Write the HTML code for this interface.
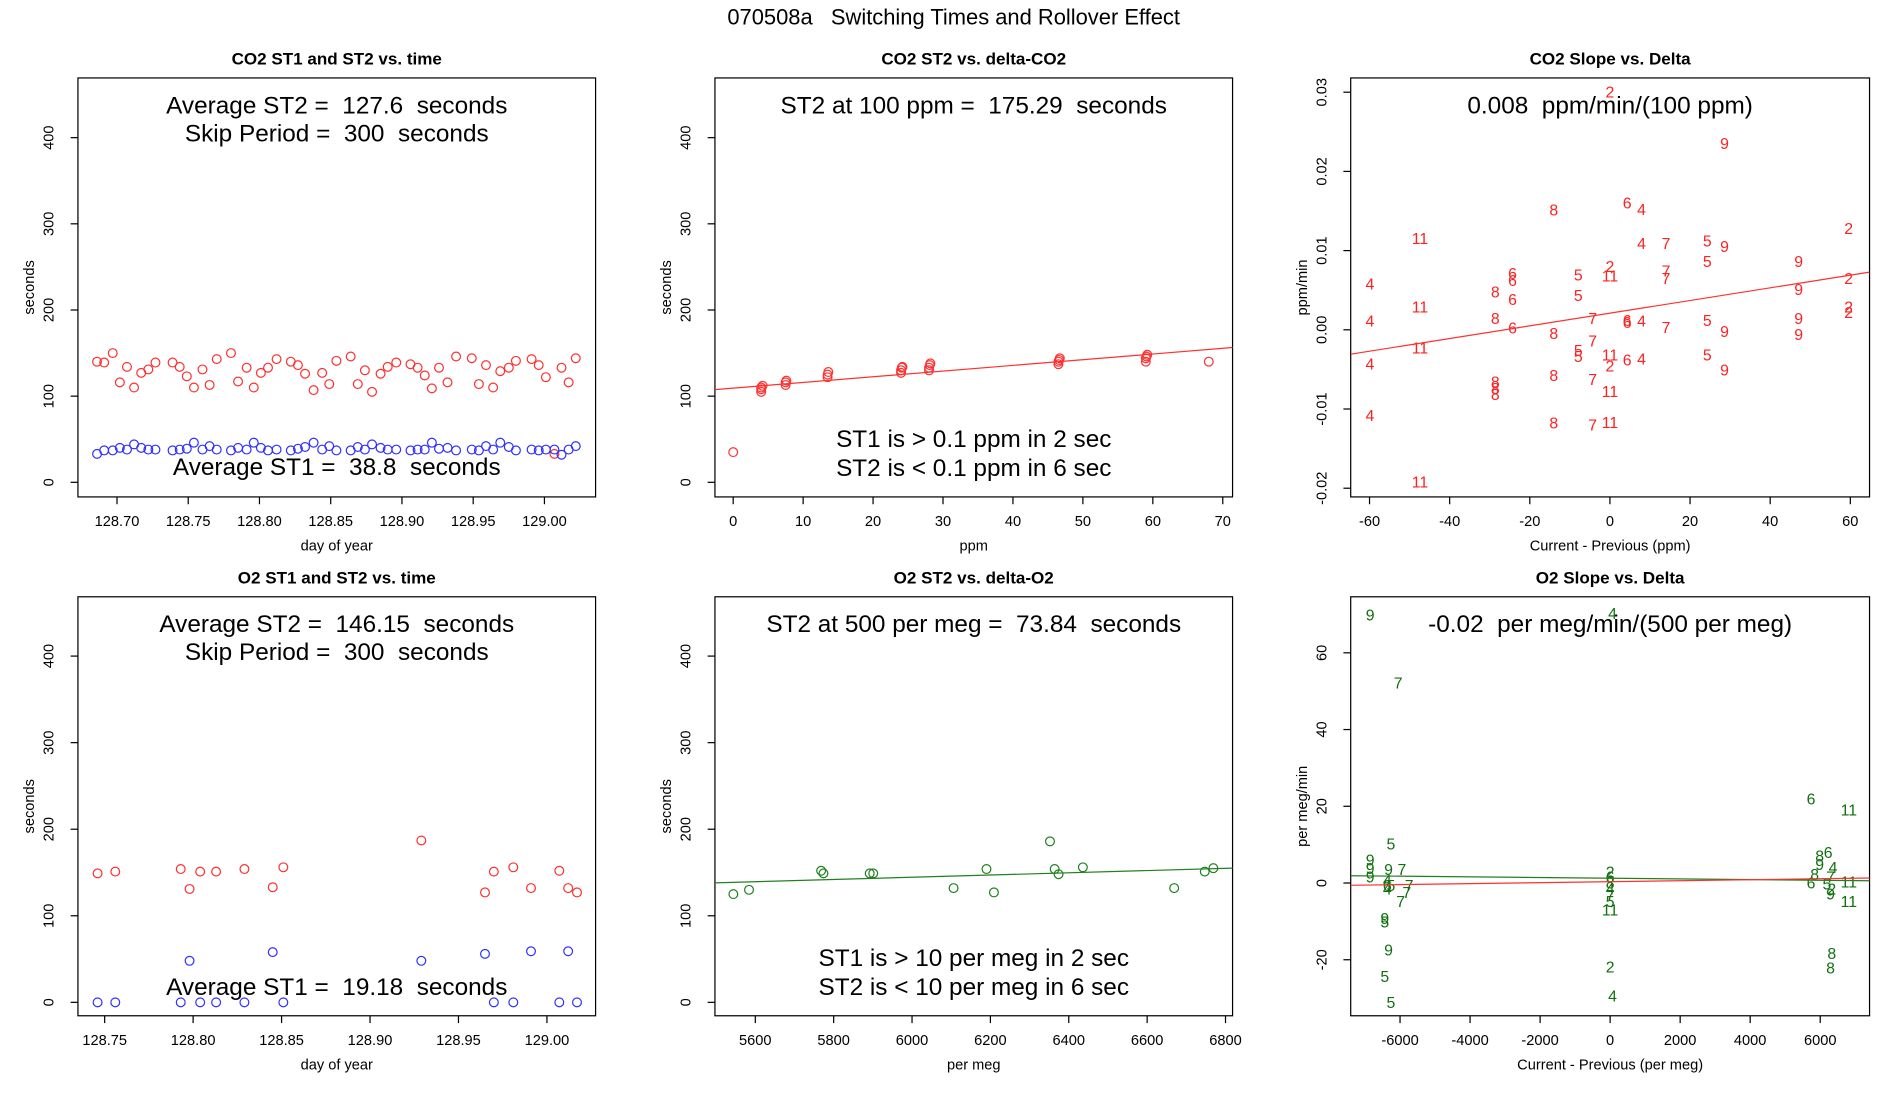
<!DOCTYPE html>
<html><head><meta charset="utf-8">
<style>
html,body{margin:0;padding:0;background:#fff;}
svg{display:block;font-family:"Liberation Sans",Arial,sans-serif;}
svg text{white-space:pre;}
</style></head>
<body>
<svg id="fig" width="1900" height="1100" viewBox="0 0 1560 903.16" xmlns="http://www.w3.org/2000/svg" xml:space="preserve">
<rect x="0" y="0" width="1560" height="903.16" fill="#fff"/>
<text x="783" y="20" font-size="18" text-anchor="middle">070508a   Switching Times and Rollover Effect</text>
</svg>
<script>
// ---------- data ----------
const co2Days = [128.686,128.691,128.697,128.702,128.707,128.712,128.717,128.722,128.727,128.739,128.744,128.749,128.754,128.760,128.765,128.770,128.780,128.785,128.791,128.796,128.801,128.806,128.812,128.822,128.827,128.832,128.838,128.844,128.849,128.854,128.864,128.869,128.874,128.879,128.885,128.890,128.896,128.906,128.911,128.916,128.921,128.926,128.932,128.938,128.949,128.954,128.959,128.964,128.969,128.975,128.980,128.991,128.996,129.001,129.007,129.012,129.017,129.022];
const co2ST2 = [140,139,150,116,134,110,127,131,139,139,134,123,110,131,113,143,150,117,133,110,127,133,143,140,136,126,107,127,114,141,146,114,130,105,126,134,139,137,133,124,109,133,116,146,144,114,136,110,129,133,141,143,136,122,33,133,116,144];
const co2ST1 = [33,37,37,40,38,44,40,38,38,37,38,39,46,38,42,38,37,40,38,46,40,37,38,37,39,41,46,38,42,37,37,41,38,44,40,38,38,37,38,38,46,39,40,37,38,37,42,38,46,41,37,38,37,38,38,32,38,42,37].slice(0,58);
const co2Ppm = [0,4,4,4,4.2,7.5,7.5,7.6,13.5,13.5,13.6,24,24,24.1,24.2,28,28,28.1,28.2,46.5,46.5,46.6,46.7,59,59,59.1,59.2,68];
const co2PpmST2 = [35,105,108,110,112,113,116,118,122,125,128,127,130,133,134,130,133,136,138,137,140,142,144,140,144,146,148,140];
const co2FitA = 109.3, co2FitB = 0.66;
const co2SlopeLbl = ['2','9','8','6','4','11','4','7','5','9','2','4','2','11','5','6','6','8','7','7','5','9','9','2','6','5','11','8','4','7','6','6','4','7','5','9','9','9','2','2','6','8','7','11','5','5','11','6','4','2','4','5','9','8','7','8','8','8','11','4','8','7','11','11'];
const co2SlopeX = [0,28.6,-14,4.3,7.9,-47.4,7.9,14,24.3,28.6,59.6,-59.9,0,0,-7.9,-24.3,-24.3,-28.6,14,14,24.3,47.1,47.1,59.6,-24.3,-7.9,-47.4,-28.6,-59.9,-4.3,4.3,4.3,7.9,14,24.3,28.6,47.1,47.1,59.6,59.6,-24.3,-14,-4.3,-47.4,-7.9,-7.9,0,4.3,7.9,0,-59.9,24.3,28.6,-14,-4.3,-28.6,-28.6,-28.6,0,-59.9,-14,-4.3,0,-47.4];
const co2SlopeY = [0.030,0.0235,0.0151,0.016,0.0152,0.0115,0.0109,0.0109,0.0112,0.0105,0.0128,0.0058,0.008,0.0068,0.0069,0.0071,0.0062,0.0048,0.0074,0.0065,0.0086,0.0086,0.0051,0.0065,0.0038,0.0043,0.0029,0.0014,0.0011,0.0014,0.0012,0.0009,0.0011,0.0003,0.0012,-0.0002,0.0014,-0.0006,0.0029,0.0022,0.0002,-0.0005,-0.0014,-0.0023,-0.0026,-0.0034,-0.0032,-0.0038,-0.0037,-0.0046,-0.0043,-0.0032,-0.0051,-0.0058,-0.0063,-0.0066,-0.0074,-0.0082,-0.0078,-0.0108,-0.0118,-0.012,-0.0117,-0.0192];
const co2SlopeFitA = 0.0021, co2SlopeFitB = 0.00008;

const o2Days = [128.746,128.756,128.793,128.798,128.804,128.813,128.829,128.845,128.851,128.929,128.965,128.970,128.981,128.991,129.007,129.012,129.017];
const o2ST2 = [149,151,154,131,151,151,154,133,156,187,127,151,156,132,152,132,127];
const o2ST1 = [0,0,0,48,0,0,0,58,0,48,56,0,0,59,0,59,0];
const o2PerMeg = [5544,5584,5768,5774,5892,5901,6106,6190,6209,6352,6364,6374,6436,6669,6747,6769];
const o2MegST2 = [125,130,152,149,149,149,132,154,127,186,154,148,156,132,151,155];
const o2FitA = 67.1, o2FitB = 0.0129;
const o2SlopeLbl = ['9','4','7','6','11','5','9','9','7','9','9','4','6','5','7','7','4','7','5','9','9','5','5','2','6','8','4','7','5','11','2','4','8','6','9','4','8','7','5','11','6','2','9','11','8','8'];
const o2SlopeX = [-6852,70,-6052,5739,6817,-6261,-6852,-6330,-5948,-6852,-6852,-6365,-6365,-6261,-5739,-5809,-6365,-5983,-6435,-6435,-6330,-6435,-6261,0,0,0,0,0,0,0,0,70,5983,6226,5983,6365,5843,6296,6191,6817,5739,6330,6296,6817,6330,6296];
const o2SlopeY = [69.8,70.2,52.1,21.9,19,10.2,6,3.5,3.5,3.8,1.6,0.6,-0.6,-0.6,-0.6,-2.5,-1.6,-4.8,-10.2,-9.2,-17.5,-24.4,-31.1,2.9,1.6,0,-1.6,-3.2,-4.8,-7,-21.9,-29.5,7,7.9,4.8,4.1,2.2,1.6,-0.3,0.3,0,-1.6,-2.9,-4.8,-18.4,-22.2];
const o2GreenA = 1.25, o2GreenB = -0.000088;
const o2RedA = 0.35, o2RedB = 0.000128;

const secTicks = [0,100,200,300,400];
const day1Ticks = [128.70,128.75,128.80,128.85,128.90,128.95,129.00];
const day2Ticks = [128.75,128.80,128.85,128.90,128.95,129.00];
const ppmTicks = [0,10,20,30,40,50,60,70];
const dppmTicks = [-60,-40,-20,0,20,40,60];
const slope1Ticks = [-0.02,-0.01,0,0.01,0.02,0.03];
const slope1TickLbl = ['-0.02','-0.01','0.00','0.01','0.02','0.03'];
const megTicks = [5600,5800,6000,6200,6400,6600,6800];
const dmegTicks = [-6000,-4000,-2000,0,2000,4000,6000];
const slope2Ticks = [-20,0,20,40,60];

// ---------- helpers ----------
const NS = 'http://www.w3.org/2000/svg';
const svg = document.getElementById('fig');
function mk(tag, attrs, parent, txt){
  const e = document.createElementNS(NS, tag);
  for (const k in attrs) e.setAttribute(k, attrs[k]);
  if (txt !== undefined) e.textContent = txt;
  (parent || svg).appendChild(e);
  return e;
}
function panel(o){
  const g = mk('g', {});
  
  
  const L=o.box[0], T=o.box[1], R=o.box[2], B=o.box[3];
  const sx = v => L + (v - o.xlim[0]) / (o.xlim[1]-o.xlim[0]) * (R-L);
  const sy = v => B - (v - o.ylim[0]) / (o.ylim[1]-o.ylim[0]) * (B-T);
  const t = mk('text', {x:(L+R)/2, y:T-11, 'font-size':14, 'font-weight':'bold', 'text-anchor':'middle'}, g, o.title);
  
  
  const box = mk('rect', {x:L, y:T, width:R-L, height:B-T, fill:'none', stroke:'#000', 'stroke-width':1}, g);
  
  
  const xa = mk('g', {}, g);
  
  
  o.xticks.forEach((v,i)=>{
    const x = sx(v);
    mk('line', {x1:x, x2:x, y1:B, y2:B+6, stroke:'#000'}, xa);
    const tl = mk('text', {x:x, y:B+24, 'font-size':12, 'text-anchor':'middle'}, xa, o.xlbl ? o.xlbl[i] : String(v));
    
    
  });
  const xt = mk('text', {x:(L+R)/2, y:B+44, 'font-size':12, 'text-anchor':'middle'}, g, o.xlab);
  
  
  const ya = mk('g', {}, g);
  
  
  o.yticks.forEach((v,i)=>{
    const y = sy(v);
    mk('line', {x1:L-6, x2:L, y1:y, y2:y, stroke:'#000'}, ya);
    const tl = mk('text', {x:L-20, y:y, 'font-size':12, 'text-anchor':'middle', transform:`rotate(-90 ${L-20} ${y})`}, ya, o.ylbl ? o.ylbl[i] : String(v));
    
    
  });
  const yt = mk('text', {x:L-36, y:(T+B)/2, 'font-size':12, 'text-anchor':'middle', transform:`rotate(-90 ${L-36} ${(T+B)/2})`}, g, o.ylab);
  
  
  const cp = 'clip-' + o.name;
  const cl = mk('clipPath', {id:cp}, g);
  mk('rect', {x:L, y:T, width:R-L, height:B-T}, cl);
  const plot = mk('g', {'clip-path':`url(#${cp})`}, g);
  
  
  return {g, plot, sx, sy, L, T, R, B};
}
function points(p, xs, ys, color, name){
  xs.forEach((x,i)=>{
    const c = mk('circle', {cx:p.sx(x), cy:p.sy(ys[i]), r:3.6, fill:'none', stroke:color, 'stroke-width':1}, p.plot);
    
    
  });
}
function labels(p, xs, ys, lbls, color, name){
  xs.forEach((x,i)=>{
    const t = mk('text', {x:p.sx(x), y:p.sy(ys[i])+4.5, 'font-size':13, fill:color, 'text-anchor':'middle'}, p.plot, lbls[i]);
    
    
  });
}
function fitLine(p, xlim, a, b, color, name){
  const l = mk('line', {x1:p.sx(xlim[0]), y1:p.sy(a+b*xlim[0]), x2:p.sx(xlim[1]), y2:p.sy(a+b*xlim[1]), stroke:color, 'stroke-width':1}, p.plot);
  
  
}
function note(p, y, txt, name){
  const t = mk('text', {x:(p.L+p.R)/2, y:y, 'font-size':20, 'text-anchor':'middle'}, p.g, txt);
  
  
}

// ---------- panels ----------
const row1 = [64,408], row2 = [490,834];
const secLim = [-16.96, 469.3];

const p1 = panel({name:'co2-time-panel', box:[64,row1[0],489,row1[1]], xlim:[128.6726,129.0359], ylim:secLim,
  title:'CO2 ST1 and ST2 vs. time', xticks:day1Ticks, xlbl:day1Ticks.map(v=>v.toFixed(2)), yticks:secTicks, xlab:'day of year', ylab:'seconds'});
points(p1, co2Days, co2ST2, '#ff3030', 'st2-point');
points(p1, co2Days, co2ST1, '#3030ff', 'st1-point');
note(p1, 93, 'Average ST2 =  127.6  seconds', 'average-st2-note');
note(p1, 116, 'Skip Period =  300  seconds', 'skip-period-note');
note(p1, 390, 'Average ST1 =  38.8  seconds', 'average-st1-note');

const p2 = panel({name:'co2-st2-delta-panel', box:[587,row1[0],1012,row1[1]], xlim:[-2.61,71.4], ylim:secLim,
  title:'CO2 ST2 vs. delta-CO2', xticks:ppmTicks, yticks:secTicks, xlab:'ppm', ylab:'seconds'});
points(p2, co2Ppm, co2PpmST2, '#ff3030', 'st2-ppm-point');
fitLine(p2, [-2.61,71.4], co2FitA, co2FitB, '#ff3030', 'fit-line');
note(p2, 93, 'ST2 at 100 ppm =  175.29  seconds', 'st2-at-100-note');
note(p2, 367, 'ST1 is > 0.1 ppm in 2 sec', 'st1-criterion-note');
note(p2, 391, 'ST2 is < 0.1 ppm in 6 sec', 'st2-criterion-note');

const p3 = panel({name:'co2-slope-panel', box:[1109,row1[0],1535,row1[1]], xlim:[-64.7,64.8], ylim:[-0.0211,0.0318],
  title:'CO2 Slope vs. Delta', xticks:dppmTicks, yticks:slope1Ticks, ylbl:slope1TickLbl, xlab:'Current - Previous (ppm)', ylab:'ppm/min'});
labels(p3, co2SlopeX, co2SlopeY, co2SlopeLbl, '#ff2020', 'slope-label');
fitLine(p3, [-64.7,64.8], co2SlopeFitA, co2SlopeFitB, '#ff3030', 'fit-line');
note(p3, 93, '0.008  ppm/min/(100 ppm)', 'slope-note');

const p4 = panel({name:'o2-time-panel', box:[64,row2[0],489,row2[1]], xlim:[128.7349,129.0275], ylim:[-15.5,468.5],
  title:'O2 ST1 and ST2 vs. time', xticks:day2Ticks, xlbl:day2Ticks.map(v=>v.toFixed(2)), yticks:secTicks, xlab:'day of year', ylab:'seconds'});
points(p4, o2Days, o2ST2, '#ff3030', 'st2-point');
points(p4, o2Days, o2ST1, '#3030ff', 'st1-point');
note(p4, 519, 'Average ST2 =  146.15  seconds', 'average-st2-note');
note(p4, 542, 'Skip Period =  300  seconds', 'skip-period-note');
note(p4, 817, 'Average ST1 =  19.18  seconds', 'average-st1-note');

const p5 = panel({name:'o2-st2-delta-panel', box:[587,row2[0],1012,row2[1]], xlim:[5497,6818], ylim:[-15.5,468.5],
  title:'O2 ST2 vs. delta-O2', xticks:megTicks, yticks:secTicks, xlab:'per meg', ylab:'seconds'});
points(p5, o2PerMeg, o2MegST2, '#208020', 'st2-permeg-point');
fitLine(p5, [5497,6818], o2FitA, o2FitB, '#208020', 'fit-line');
note(p5, 519, 'ST2 at 500 per meg =  73.84  seconds', 'st2-at-500-note');
note(p5, 793, 'ST1 is > 10 per meg in 2 sec', 'st1-criterion-note');
note(p5, 817, 'ST2 is < 10 per meg in 6 sec', 'st2-criterion-note');

const p6 = panel({name:'o2-slope-panel', box:[1109,row2[0],1535,row2[1]], xlim:[-7409,7409], ylim:[-34.6,74.6],
  title:'O2 Slope vs. Delta', xticks:dmegTicks, yticks:slope2Ticks, xlab:'Current - Previous (per meg)', ylab:'per meg/min'});
labels(p6, o2SlopeX, o2SlopeY, o2SlopeLbl, '#107010', 'slope-label');
fitLine(p6, [-7409,7409], o2GreenA, o2GreenB, '#208020', 'fit-line-green');
fitLine(p6, [-7409,7409], o2RedA, o2RedB, '#ff3030', 'fit-line-red');
note(p6, 519, '-0.02  per meg/min/(500 per meg)', 'slope-note');
</script>
</body></html>
